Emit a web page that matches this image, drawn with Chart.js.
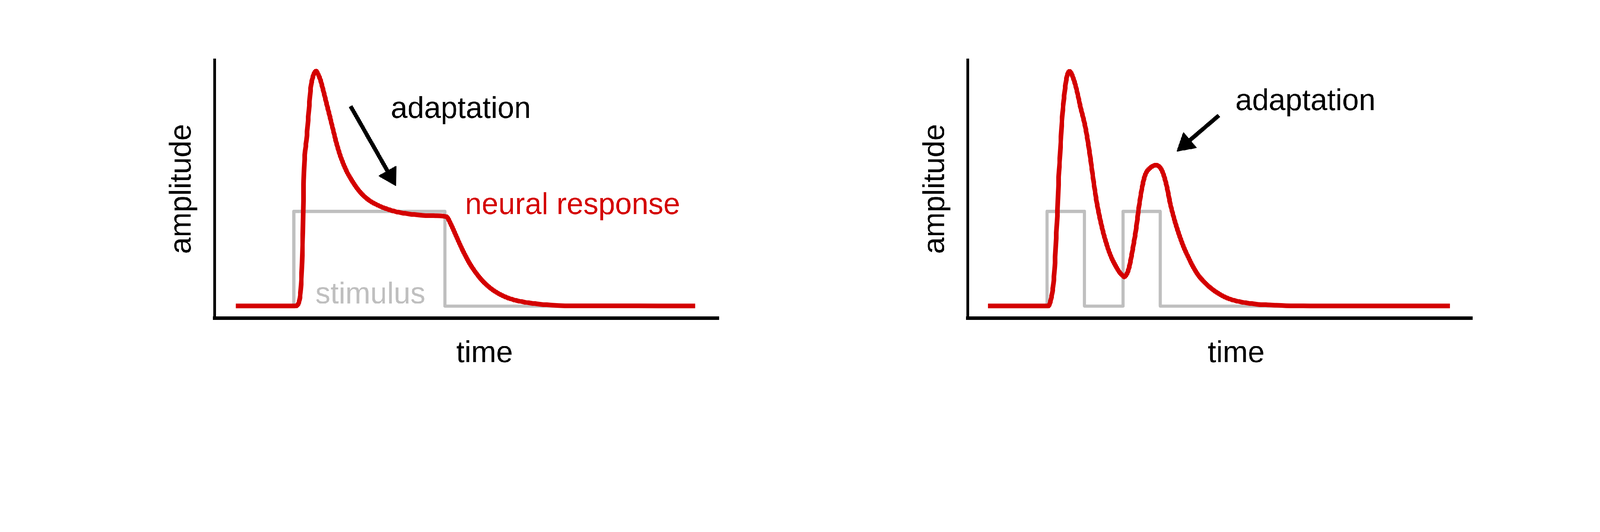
<!DOCTYPE html>
<html>
<head>
<meta charset="utf-8">
<script src="https://cdn.jsdelivr.net/npm/chart.js@4.4.1/dist/chart.umd.min.js"></script>
<style>
html,body{margin:0;padding:0;background:#fff;overflow:hidden;}
#wrap{position:absolute;left:0;top:0;width:5495px;height:1362px;overflow:hidden;background:#fff;transform-origin:0 0;}
canvas{position:absolute;top:0;}
#c1{left:0;}
#c2{left:2747px;}
</style>
</head>
<body>
<div id="wrap">
<canvas id="c1" width="2747" height="1362"></canvas>
<canvas id="c2" width="2748" height="1362"></canvas>
</div>
<script>
// ---------- DATA ----------
// Left panel: sustained stimulus
const timeLeft = [4.2, 15.9, 16.6, 17.1, 17.35, 17.5, 17.68, 18.29, 18.67, 19.07, 19.46, 19.78, 20.13, 20.5, 20.95, 21.5, 22.16, 23.05, 24.15, 25.04, 26.14, 27.25, 28.8, 30.57, 32.78, 35.0, 37.2, 40.52, 43.82, 45.94, 46.93, 47.8, 48.67, 49.56, 50.61, 51.66, 52.71, 54.1, 55.51, 57.26, 59.35, 62.16, 65.65, 70.9, 95.3];
const responseLeft = [4.6, 4.6, 5.5, 11.5, 22, 33, 53.2, 70.5, 79.9, 89.4, 93.3, 95.0, 95.7, 94.6, 92.5, 88.6, 83.4, 76.5, 67.9, 62.2, 57.0, 53.2, 48.9, 45.7, 43.3, 41.7, 40.7, 39.9, 39.6, 39.3, 36.0, 32.2, 28.4, 24.8, 21.0, 17.9, 15.3, 12.5, 10.4, 8.5, 7.0, 5.9, 5.1, 4.7, 4.6];
const stimTimeLeft = [4.2, 15.7, 15.7, 45.67, 45.67, 95.3];
const stimLeft = [4.6, 4.6, 41.3, 41.3, 4.6, 4.6];

// Right panel: two short pulses
const timeRight = [4.0, 15.95, 16.5, 16.9, 17.2, 17.49, 17.79, 18.0, 18.24, 18.69, 19.2, 19.57, 19.9, 20.17, 20.52, 20.9, 21.45, 22.34, 23.21, 23.66, 24.36, 24.99, 25.58, 26.21, 26.91, 27.6, 28.4, 29.3, 30.1, 30.65, 31.0, 31.35, 31.7, 32.1, 32.7, 33.3, 33.95, 34.6, 35.2, 36.1, 37.3, 38.0, 38.63, 39.38, 40.13, 40.9, 41.6, 42.3, 43.0, 43.7, 44.4, 45.6, 46.93, 48.47, 50.2, 52.12, 54.43, 57.3, 61.16, 67.9, 95.6];
const responseRight = [4.6, 4.6, 7.4, 12.1, 19.1, 30.7, 42.3, 54.0, 61.8, 77.4, 87.7, 92.9, 95.1, 95.6, 94.8, 92.9, 89.4, 81.7, 74.8, 70.0, 61.0, 52.0, 44.6, 38.4, 32.6, 28.0, 23.7, 20.2, 17.6, 16.5, 15.9, 16.5, 17.8, 20.6, 26.8, 33.8, 43.4, 51.1, 55.6, 58.1, 59.2, 58.6, 56.5, 51.5, 44.3, 38.5, 34.0, 30.0, 26.5, 23.6, 20.8, 16.8, 13.8, 11.1, 8.9, 7.2, 6.1, 5.3, 4.9, 4.6, 4.6];
const stimTimeRight = [4.0, 15.7, 15.7, 23.13, 23.13, 30.77, 30.77, 38.15, 38.15, 95.6];
const stimRight = [4.6, 4.6, 41.3, 41.3, 4.6, 4.6, 41.3, 41.3, 4.6, 4.6];

// Labels
const yTitle = 'amplitude';
const xTitle = 'time';
const adaptationLabel = 'adaptation';
const responseLabel = 'neural response';
const stimulusLabel = 'stimulus';

// ---------- RENDER ----------
const FONT = '"Liberation Sans", Arial, Helvetica, sans-serif';
const RED = '#D40000';
const GREY = '#BFBFBF';

// fit the 5495x1362 design to the actual viewport
(function fit() {
  const s = Math.min(window.innerWidth / 5495, window.innerHeight / 1362);
  if (s > 0 && Math.abs(s - 1) > 0.001) {
    document.getElementById('wrap').style.transform = 'scale(' + s + ')';
  }
})();

function pts(xs, ys) { return xs.map((x, i) => ({x: x, y: ys[i]})); }

function drawArrow(ctx, x0, y0, x1, y1) {
  const dx = x1 - x0, dy = y1 - y0, L = Math.hypot(dx, dy);
  const ux = dx / L, uy = dy / L;
  const headLen = 58, headW = 66;
  const bx = x1 - ux * headLen, by = y1 - uy * headLen;
  ctx.save();
  ctx.strokeStyle = '#000'; ctx.fillStyle = '#000';
  ctx.lineWidth = 14; ctx.lineCap = 'butt';
  ctx.beginPath(); ctx.moveTo(x0, y0); ctx.lineTo(bx + ux * 4, by + uy * 4); ctx.stroke();
  ctx.beginPath();
  ctx.moveTo(x1 - ux * 2, y1 - uy * 2);
  ctx.lineTo(bx - uy * headW / 2, by + ux * headW / 2);
  ctx.lineTo(bx + uy * headW / 2, by - ux * headW / 2);
  ctx.closePath();
  ctx.lineJoin = 'round'; ctx.lineWidth = 4;
  ctx.fill(); ctx.stroke();
  ctx.restore();
}

const notesPlugin = {
  id: 'notes',
  afterDraw(chart, args, opts) {
    const ctx = chart.ctx, xs = chart.scales.x, ys = chart.scales.y;
    (opts.texts || []).forEach(t => {
      ctx.save();
      ctx.font = '103px ' + FONT;
      ctx.fillStyle = t.color;
      ctx.textAlign = 'left';
      ctx.textBaseline = 'alphabetic';
      ctx.fillText(t.text, xs.getPixelForValue(t.x), ys.getPixelForValue(t.y));
      ctx.restore();
    });
    (opts.arrows || []).forEach(a => {
      drawArrow(ctx, xs.getPixelForValue(a.x0), ys.getPixelForValue(a.y0),
                     xs.getPixelForValue(a.x1), ys.getPixelForValue(a.y1));
    });
  }
};

function makeChart(id, resp, stim, pad, notes) {
  return new Chart(document.getElementById(id), {
    type: 'line',
    data: {
      datasets: [
        { label: responseLabel, data: resp, borderColor: RED, borderWidth: 16, pointRadius: 0,
          cubicInterpolationMode: 'monotone', borderJoinStyle: 'round', borderCapStyle: 'butt', fill: false },
        { label: stimulusLabel, data: stim, borderColor: GREY, borderWidth: 11, pointRadius: 0,
          tension: 0, borderJoinStyle: 'round', borderCapStyle: 'butt', fill: false }
      ]
    },
    options: {
      responsive: false,
      animation: false,
      events: [],
      layout: { padding: pad },
      plugins: { legend: { display: false }, tooltip: { enabled: false }, notes: notes },
      scales: {
        x: { type: 'linear', min: 0, max: 100,
             ticks: { display: false },
             grid: { display: false, drawTicks: false },
             border: { display: true, color: '#000', width: 13 },
             title: { display: false } },
        y: { type: 'linear', min: 0, max: 100,
             ticks: { display: false },
             grid: { display: false, drawTicks: false },
             border: { display: true, color: '#000', width: 10 },
             title: { display: true, text: yTitle, color: '#000',
                      font: { family: FONT, size: 103, lineHeight: 1 },
                      padding: { top: 0, bottom: 58.5 } } }
      }
    },
    plugins: [notesPlugin]
  });
}

makeChart('c1', pts(timeLeft, responseLeft), pts(stimTimeLeft, stimLeft),
  { left: 575.5, right: 278, top: 206, bottom: 270 },
  {
    texts: [
      { text: adaptationLabel, x: 34.93, y: 77.5, color: '#000' },
      { text: responseLabel, x: 49.65, y: 40.3, color: RED },
      { text: stimulusLabel, x: 19.99, y: 5.64, color: GREY },
      { text: xTitle, x: 47.9, y: -17.2, color: '#000' }
    ],
    arrows: [ { x0: 26.96, y0: 82.1, x1: 35.97, y1: 51.2 } ]
  });

makeChart('c2', pts(timeRight, responseRight), pts(stimTimeRight, stimRight),
  { left: 415.5, right: 439, top: 206, bottom: 270 },
  {
    texts: [
      { text: adaptationLabel, x: 53.06, y: 80.6, color: '#000' },
      { text: xTitle, x: 47.58, y: -17.2, color: '#000' }
    ],
    arrows: [ { x0: 49.77, y0: 78.5, x1: 41.45, y1: 64.6 } ]
  });
</script>
</body>
</html>
